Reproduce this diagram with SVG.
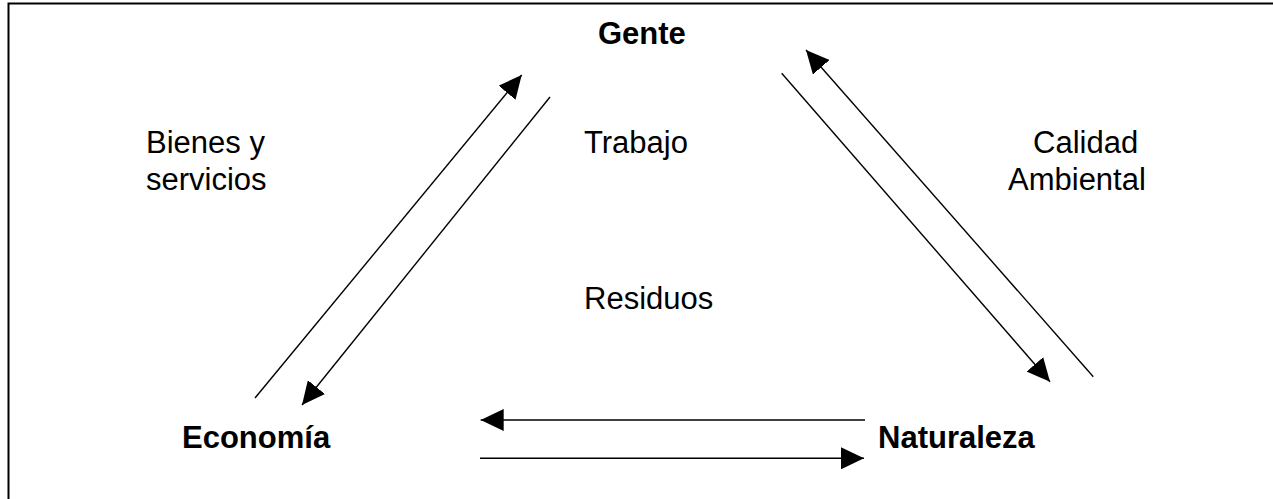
<svg xmlns="http://www.w3.org/2000/svg" width="1273" height="499" viewBox="0 0 1273 499">
<style>
.t{font-family:"Liberation Sans",Arial,sans-serif;font-size:31px;fill:#000}
.b{font-weight:bold}
.c{stroke:#000;stroke-width:1.4;fill:none}
</style>
<defs>
<marker id="ah" markerUnits="userSpaceOnUse" markerWidth="24" markerHeight="22" viewBox="0 0 24 22" refX="23" refY="11" orient="auto">
<path d="M0,0 L23,11 L0,22 Z" fill="#000"/>
</marker>
</defs>
<rect width="1273" height="499" fill="#fff"/>
<path d="M8.5,499 V3.5 H1273" fill="none" stroke="#000" stroke-width="2"/>
<g id="gente"><text class="t b" x="598" y="44">Gente</text></g>
<g id="economia"><text class="t b" x="182" y="448">Economía</text></g>
<g id="naturaleza"><text class="t b" x="878" y="448">Naturaleza</text></g>
<g id="connectors">
<line class="c" x1="255" y1="398" x2="521.7" y2="75" marker-end="url(#ah)"/>
<line class="c" x1="550" y1="97" x2="302" y2="405" marker-end="url(#ah)"/>
<line class="c" x1="781.7" y1="73.3" x2="1050" y2="381.7" marker-end="url(#ah)"/>
<line class="c" x1="1093.3" y1="376.7" x2="806" y2="50" marker-end="url(#ah)"/>
<line class="c" x1="865" y1="420" x2="480.7" y2="420" marker-end="url(#ah)"/>
<line class="c" x1="480" y1="458.3" x2="864" y2="458.3" marker-end="url(#ah)"/>
</g>
<g id="labels">
<text class="t" x="146" y="153">Bienes y</text>
<text class="t" x="146" y="190">servicios</text>
<text class="t" x="584" y="153">Trabajo</text>
<text class="t" x="1033" y="153">Calidad</text>
<text class="t" x="1008" y="190">Ambiental</text>
<text class="t" x="584" y="309">Residuos</text>
</g>
</svg>
